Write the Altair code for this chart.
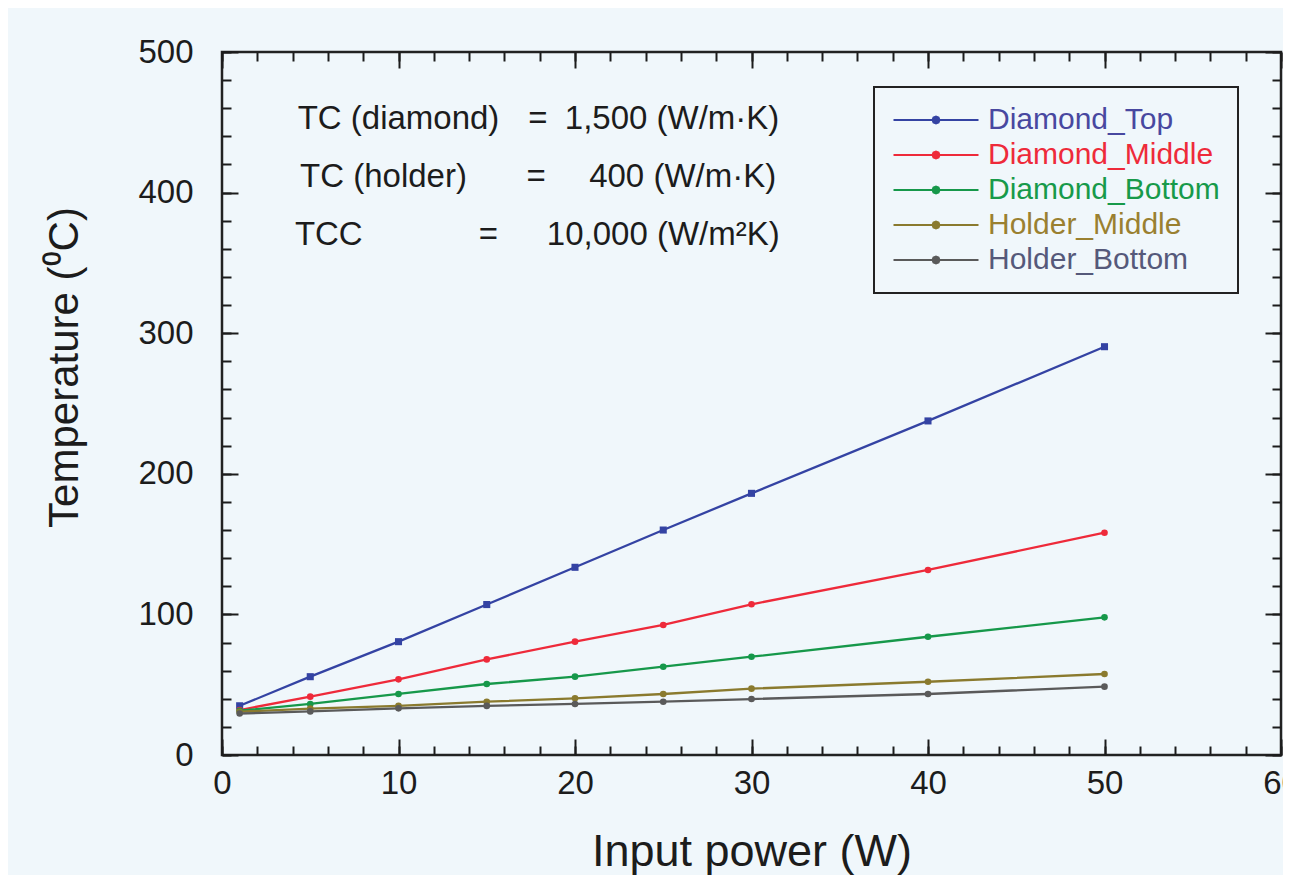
import altair as alt
import pandas as pd

# ---------------- data ----------------
power = [1, 5, 10, 15, 20, 25, 30, 40, 50]
series = ["Diamond_Top", "Diamond_Middle", "Diamond_Bottom", "Holder_Middle", "Holder_Bottom"]
diamond_top = [35.0, 55.7, 80.6, 107.0, 133.5, 160.0, 186.1, 237.6, 290.4]
diamond_middle = [32.0, 41.5, 53.8, 68.0, 80.6, 92.5, 107.2, 131.6, 158.1]
diamond_bottom = [31.5, 36.3, 43.4, 50.5, 55.7, 62.8, 69.9, 84.1, 97.9]
holder_middle = [30.8, 33.0, 35.0, 37.9, 40.3, 43.4, 47.2, 52.1, 57.6]
holder_bottom = [29.5, 31.0, 33.2, 34.9, 36.3, 37.9, 39.8, 43.4, 48.6]

line_colors = ["#3443a3", "#ee2a3a", "#16984a", "#8a7a2e", "#5a5a5a"]
label_colors = ["#4848a0", "#ee2a3a", "#179a4a", "#9a8030", "#55597a"]
square_series = ["Diamond_Top"]  # drawn with square markers, the rest with circles

x_major = [0, 10, 20, 30, 40, 50, 60]
x_minor = list(range(0, 61, 2))
y_major = [0, 100, 200, 300, 400, 500]
y_minor = list(range(0, 501, 20))

ann_names = ["TC (diamond)", "TC (holder)", "TCC"]
ann_eq = ["=", "=", "="]
ann_vals = ["1,500 (W/m\u00b7K)", "400 (W/m\u00b7K)", "10,000 (W/m\u00b2K)"]

# annotation anchors (data space, centres of each text piece)
ann_y = [452, 411, 370]
ann_name_x = [10.0, 9.15, 6.05]
ann_eq_x = [17.9, 17.8, 15.1]
ann_val_x = [25.5, 26.1, 25.0]

BG = "#f0f7fb"
INK = "#1c1c1c"
FONT = "Liberation Sans"

# ---------------- tables ----------------
cols = [diamond_top, diamond_middle, diamond_bottom, holder_middle, holder_bottom]
rows = []
for name, vals in zip(series, cols):
    for p, v in zip(power, vals):
        rows.append({"power": p, "temp": v, "series": name})
df = pd.DataFrame(rows)
df_sq = df[df["series"].isin(square_series)]
df_ci = df[~df["series"].isin(square_series)]

ann = pd.DataFrame({
    "name": ann_names, "eq": ann_eq, "val": ann_vals,
    "y": ann_y, "nx": ann_name_x, "ex": ann_eq_x, "vx": ann_val_x,
})

xscale = alt.Scale(domain=[0, 60], nice=False, zero=False)
yscale = alt.Scale(domain=[0, 500], nice=False, zero=False)

MAJ = 16
MIN = 9


def axis(orient, values, size, labels=False, title=None, **kw):
    return alt.Axis(
        orient=orient, values=values, tickSize=size, offset=-size,
        domain=False, grid=False, labels=labels, title=title,
        tickColor=INK, tickWidth=2, **kw,
    )


ax_bottom = axis("bottom", x_major, MAJ, labels=True, title="Input power (W)",
                 labelFontSize=33, labelPadding=12, labelColor=INK, format="d",
                 labelFlush=False, titleFontSize=45, titleFontWeight="normal",
                 titleColor=INK, titlePadding=29)
ay_left = axis("left", y_major, MAJ, labels=True, title="Temperature (\u2070C)",
               labelFontSize=33, labelPadding=29, labelColor=INK, format="d",
               labelFlush=False, titleFontSize=42, titleFontWeight="normal",
               titleColor=INK, titlePadding=51, titleY=315)
ax_bottom_minor = axis("bottom", x_minor, MIN)
ay_left_minor = axis("left", y_minor, MIN)
ax_top = axis("top", x_major, MAJ)
ay_right = axis("right", y_major, MAJ)
ax_top_minor = axis("top", x_minor, MIN)
ay_right_minor = axis("right", y_minor, MIN)


def js_list(items):
    return "[" + ",".join("'" + s + "'" for s in items) + "]"


label_color_expr = f"{js_list(label_colors)}[indexof({js_list(series)}, datum.value)]"

# horizontal line with a small octagonal dot in the middle
sym_path = ("M-1,0H1"
            "M0.08,0L0.057,0.057L0,0.08L-0.057,0.057L-0.08,0"
            "L-0.057,-0.057L0,-0.08L0.057,-0.057Z")

legend = alt.Legend(
    title=None, orient="none", legendX=652, legendY=35,
    padding=18, rowPadding=5, clipHeight=30,
    symbolType=sym_path, symbolSize=7225, symbolStrokeWidth=2.2,
    labelFontSize=30, labelOffset=8, labelFont=FONT, labelLimit=500,
    labelColor={"expr": label_color_expr},
    strokeColor="#222222", fillColor=BG,
)

color_scale = alt.Scale(domain=series, range=line_colors)

lines = alt.Chart(df).mark_line(strokeWidth=2.3).encode(
    x=alt.X("power:Q", scale=xscale, axis=ax_bottom),
    y=alt.Y("temp:Q", scale=yscale, axis=ay_left),
    color=alt.Color("series:N", scale=color_scale, legend=legend, sort=series),
)

pts_sq = alt.Chart(df_sq).mark_square(size=50, opacity=1).encode(
    x=alt.X("power:Q", scale=xscale, axis=ax_bottom_minor),
    y=alt.Y("temp:Q", scale=yscale, axis=ay_left_minor),
    color=alt.Color("series:N", scale=color_scale, legend=None),
)
pts_ci = alt.Chart(df_ci).mark_circle(size=44, opacity=1).encode(
    x=alt.X("power:Q", scale=xscale, axis=None),
    y=alt.Y("temp:Q", scale=yscale, axis=None),
    color=alt.Color("series:N", scale=color_scale, legend=None),
)

abase = alt.Chart(ann)
tstyle = dict(align="center", baseline="middle", fontSize=33, color=INK, font=FONT)
t_name = abase.mark_text(**tstyle).encode(
    x=alt.X("nx:Q", scale=xscale, axis=ax_top),
    y=alt.Y("y:Q", scale=yscale, axis=ay_right),
    text="name:N",
)
t_eq = abase.mark_text(**tstyle).encode(
    x=alt.X("ex:Q", scale=xscale, axis=ax_top_minor),
    y=alt.Y("y:Q", scale=yscale, axis=ay_right_minor),
    text="eq:N",
)
t_val = abase.mark_text(**tstyle).encode(
    x=alt.X("vx:Q", scale=xscale, axis=None),
    y=alt.Y("y:Q", scale=yscale, axis=None),
    text="val:N",
)

chart = (
    alt.layer(lines, pts_sq, pts_ci, t_name, t_eq, t_val)
    .resolve_axis(x="independent", y="independent")
    .properties(
        width=1059, height=703,
        autosize=alt.AutoSizeParams(type="none"),
        padding={"left": 214, "top": 44, "right": 2, "bottom": 120},
        background=BG,
    )
    .configure(font=FONT)
    .configure_view(stroke="#222222", strokeWidth=2.5)
    .configure_legend(strokeWidth=2)
)

chart.save("out.html", embed_options={"renderer": "svg", "actions": False})
